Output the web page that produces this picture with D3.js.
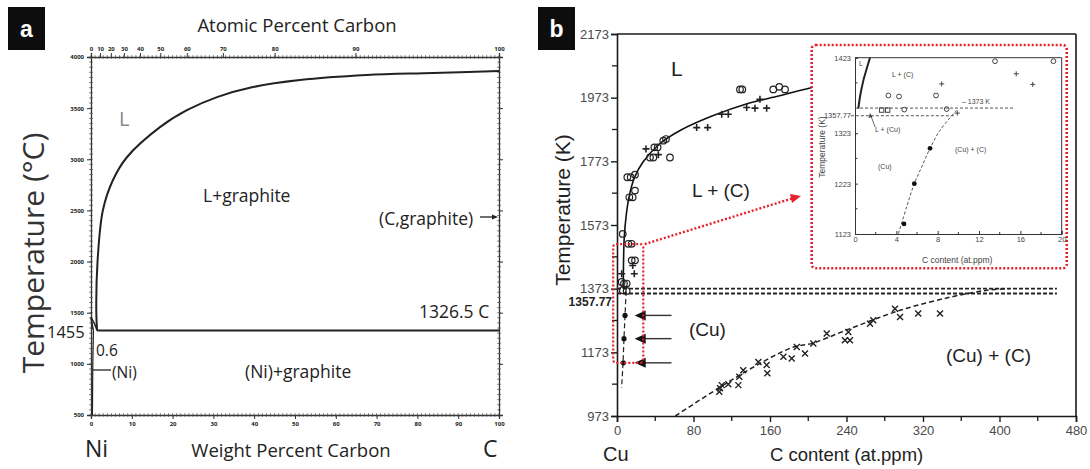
<!DOCTYPE html>
<html><head><meta charset="utf-8">
<script src="https://cdn.jsdelivr.net/npm/d3@7"></script>
<style>body{margin:0;background:#fff}svg{display:block}</style>
</head><body><svg id="c" width="1090" height="469"></svg>
<script>
// ---------- Panel a data ----------
const aWtTicks = [0,10,20,30,40,50,60,70,80,90,100];
const aAtTicks = [0,10,20,30,40,50,60,70,80,90,100];
const aTempTicks = [500,1000,1500,2000,2500,3000,3500,4000];
const aLiquidus = [[1.5,1326.5],[1.3,1500],[1.6,2000],[2.9,2500],[5.3,2790],[8.8,3020],[16.9,3314],[23.5,3480],[30.9,3608],[39.7,3706],[51.2,3775],[67.6,3824],[83.8,3843],[100,3863]];
const aNiLiquidus = [[0,1455],[0.75,1400],[1.5,1326.5]];
const aNiSolidus = [[0,1455],[0.25,1390],[0.6,1326.5]];
const aSolvus = [[0.6,1326.5],[0.45,1000],[0.35,500]];
const aEutectic = [[1.5,1326.5],[100,1326.5]];

// ---------- Panel b data ----------
const bXTicks = [0,80,160,240,320,400,480];
const bXMinor = [40,120,200,280,360,440];
const bYTicks = [973,1173,1373,1573,1773,1973,2173];
const bYMinor = [1073,1273,1473,1673,1873,2073];
const bLiquidus = [[6.5,1373],[6.8,1450],[7.5,1530],[9.5,1600],[12.5,1660],[18,1720],[27,1770],[45,1829],[66,1870],[100,1916],[136,1954],[170,1979],[203,2004],[212,2008]];
const bSolvusLow = [[9.5,1365],[8.4,1290],[7.3,1216],[6.3,1140],[4.8,1062]];
const bCuC = [[61,973],[108,1064],[150,1139],[184,1189],[205,1202],[240,1243],[296,1305],[348,1346],[387,1368],[410,1373]];
const bIsotherms = [1373,1357.77];
const bCircles = [[10.8,1723],[14.3,1723],[18.8,1731],[12.9,1660],[16.4,1660],[18.8,1681],[6,1545],[34.5,1785],[39,1817],[42.5,1817],[38,1785],[48.4,1838],[51.2,1843],[55.4,1785],[128.6,1999],[131,1999],[163.4,1999],[169.7,2007],[175.7,1999],[11.8,1514],[15.3,1514],[15.4,1462],[18.8,1462],[4.9,1394],[7.3,1389],[10.1,1389],[6,1368],[10.1,1366]];
const bPlus = [[30.3,1812],[43.2,1794],[83.3,1879],[94.8,1879],[109.5,1921],[116.4,1921],[135.6,1942],[144.3,1940],[156.5,1940],[149.5,1968],[16.4,1446],[18.1,1420],[4.9,1420]];
const bDots = [[8.4,1289],[7.3,1216],[6.6,1140]];
const bCrosses = [[107.7,1060],[109.5,1070],[107,1049],[116.4,1073],[126.9,1070],[127.9,1096],[132,1117],[147.8,1143],[156.5,1133],[157.2,1107],[174,1159],[182.7,1154],[188,1190],[196.6,1169],[205.3,1201],[219.3,1232],[238.4,1211],[241.9,1237],[243.6,1211],[264.6,1263],[268,1274],[290.7,1310],[296,1284],[315,1295],[337.8,1295]];

// ---------- Inset data ----------
const iXTicks = [0,4,8,12,16,20];
const iXMinor = [2,6,10,14,18];
const iYTickValues = [1123,1223,1323,1473];
const iYTickLabels = ["1123","1223","1323","1423"];
const iYMinor = [1173,1273,1423];
const iLiquid = [[0.32,1372],[0.48,1395],[0.81,1428],[1.13,1451],[1.45,1473]];
const iSolvus = [[9.84,1369],[8.23,1329],[7.26,1293],[6.45,1256],[5.74,1223],[5.0,1177],[4.19,1123]];
const iCircles = [[3.23,1398],[4.26,1396],[7.84,1398],[13.55,1466],[19.2,1466],[4.77,1370],[8.87,1371]];
const iSquares = [[2.58,1369],[3.16,1369]];
const iPlus = [[8.39,1421],[15.6,1441],[17.2,1420],[9.9,1363]];
const iDots = [[7.26,1293],[5.74,1223],[4.74,1143]];

const svg = d3.select('#c');
svg.append('rect').attr('width',1090).attr('height',469).attr('fill','#fff');
const RED = '#e5222b';
const fmtInt = d => String(d);

function panelLabel(x,y,w,h,t){
  svg.append('rect').attr('x',x).attr('y',y).attr('width',w).attr('height',h).attr('fill','#0d0d0d');
  svg.append('text').attr('x',x+w/2).attr('y',y+h/2+8).attr('text-anchor','middle')
    .attr('font-family','Liberation Sans, Arial, sans-serif').attr('font-weight','bold').attr('font-size',23).attr('fill','#fff').text(t);
}
function txt(g,x,y,s,size,opt={}){
  const t = g.append('text').attr('x',x).attr('y',y).attr('font-size',size)
    .attr('font-family',opt.font||"'Open Sans', sans-serif").attr('fill',opt.fill||'#222')
    .attr('text-anchor',opt.anchor||'start').text(s);
  if(opt.weight) t.attr('font-weight',opt.weight);
  if(opt.rotate) t.attr('transform',`rotate(-90,${x},${y})`);
  return t;
}
function arrowHead(g,x,y,dir,len,half,fill){
  const s = dir==='left'?1:-1;
  g.append('path').attr('d',`M${x},${y}L${x+s*len},${y-half}L${x+s*len},${y+half}Z`).attr('fill',fill);
}

// =================== PANEL A ===================
panelLabel(8,7,37,43,'a');
const xA = d3.scaleLinear().domain([0,100]).range([91,499]);
const yA = d3.scaleLinear().domain([500,4000]).range([415,57]);
const gA = svg.append('g');
const atToWt = a => 100*a*12.011/(a*12.011+(100-a)*58.693);

function styleAxisA(sel){
  sel.select('.domain').attr('stroke','#333').attr('stroke-width',1.3);
  sel.selectAll('.tick line').attr('stroke','#333');
  sel.selectAll('.tick text').attr('font-size',6).attr('font-weight','bold').attr('fill','#222').attr('font-family',"'Open Sans', sans-serif");
}
gA.append('g').attr('transform','translate(0,415)').call(d3.axisBottom(xA).tickValues(aWtTicks).tickFormat(fmtInt).tickSize(4).tickPadding(3)).call(styleAxisA);
gA.append('g').attr('transform','translate(0,57)').call(d3.axisTop(xA).tickValues(aAtTicks.map(atToWt)).tickFormat((d,i)=>aAtTicks[i]).tickSize(4).tickPadding(2)).call(styleAxisA);
gA.append('g').attr('transform','translate(91,0)').call(d3.axisLeft(yA).tickValues(aTempTicks).tickFormat(fmtInt).tickSize(4).tickPadding(3)).call(styleAxisA);
gA.append('g').attr('transform','translate(499,0)').call(d3.axisRight(yA).tickValues(aTempTicks).tickSize(4).tickFormat('')).call(styleAxisA);
const wtMinor = d3.range(0,101,1);
const tMinor = d3.range(500,4001,50);
[415,57].forEach(y=>{
  gA.append('g').selectAll('line').data(wtMinor).join('line')
    .attr('x1',d=>xA(d)).attr('x2',d=>xA(d)).attr('y1',y-1.8).attr('y2',y+1.8).attr('stroke','#444').attr('stroke-width',0.7);
});
[91,499].forEach(x=>{
  gA.append('g').selectAll('line').data(tMinor).join('line')
    .attr('y1',d=>yA(d)).attr('y2',d=>yA(d)).attr('x1',x-1.8).attr('x2',x+1.8).attr('stroke','#444').attr('stroke-width',0.7);
});
const lineA = d3.line().x(d=>xA(d[0])).y(d=>yA(d[1]));
const lineAc = d3.line().x(d=>xA(d[0])).y(d=>yA(d[1])).curve(d3.curveCatmullRom.alpha(0.5));
gA.append('path').attr('d',lineAc(aLiquidus)).attr('fill','none').attr('stroke','#222').attr('stroke-width',2);
gA.append('path').attr('d',lineAc(aNiLiquidus)).attr('fill','none').attr('stroke','#222').attr('stroke-width',1.5);
gA.append('path').attr('d',lineAc(aNiSolidus)).attr('fill','none').attr('stroke','#222').attr('stroke-width',1.5);
gA.append('path').attr('d',lineAc(aSolvus)).attr('fill','none').attr('stroke','#222').attr('stroke-width',1.2);
gA.append('path').attr('d',lineA(aEutectic)).attr('fill','none').attr('stroke','#222').attr('stroke-width',2);

txt(gA,297,32,'Atomic Percent Carbon',18.5,{anchor:'middle'});
txt(gA,291,457,'Weight Percent Carbon',18.5,{anchor:'middle'});
txt(gA,85,457,'Ni',23);
txt(gA,483,457,'C',23);
txt(gA,44,253,'Temperature (°C)',30,{anchor:'middle',rotate:true,fill:'#333'});
txt(gA,119,126,'L',20,{fill:'#8a8a8a'});
txt(gA,203,202,'L+graphite',17.5);
txt(gA,379,225,'(C,graphite)',17.5);
gA.append('line').attr('x1',480).attr('x2',492).attr('y1',217).attr('y2',217).attr('stroke','#222').attr('stroke-width',1.3);
arrowHead(gA,498,217,'right',6,2.5,'#222');
txt(gA,419,318,'1326.5 C',17.5);
txt(gA,47,338,'1455',16.5);
txt(gA,96,356,'0.6',15.5);
gA.append('line').attr('x1',93).attr('x2',111).attr('y1',370).attr('y2',370).attr('stroke','#222').attr('stroke-width',1.3);
txt(gA,112,378,'(Ni)',15.5);
txt(gA,245,378,'(Ni)+graphite',17.5);

// =================== PANEL B ===================
panelLabel(538,7,37,43,'b');
const FB = 'Liberation Sans, Arial, sans-serif';
const xB = d3.scaleLinear().domain([0,480]).range([617,1076]);
const yB = d3.scaleLinear().domain([973,2173]).range([416,34]);
const gB = svg.append('g');
function styleAxisB(sel){
  sel.select('.domain').attr('stroke','#1a1a1a').attr('stroke-width',1.6);
  sel.selectAll('.tick line').attr('stroke','#1a1a1a').attr('stroke-width',1.4);
  sel.selectAll('.tick text').attr('font-size',13).attr('fill','#4a4a4a').attr('font-family',FB);
}
gB.append('g').attr('transform','translate(0,416)').call(d3.axisBottom(xB).tickValues(bXTicks).tickFormat(fmtInt).tickSize(6).tickPadding(4)).call(styleAxisB);
gB.append('g').attr('transform','translate(617,0)').call(d3.axisLeft(yB).tickValues(bYTicks).tickFormat(fmtInt).tickSize(6).tickPadding(2)).call(styleAxisB);
gB.append('line').attr('x1',617).attr('x2',1076).attr('y1',34).attr('y2',34).attr('stroke','#1a1a1a').attr('stroke-width',1.6);
gB.append('line').attr('x1',1076).attr('x2',1076).attr('y1',34).attr('y2',416).attr('stroke','#1a1a1a').attr('stroke-width',1.6);
gB.append('g').selectAll('line').data(bXMinor).join('line').attr('x1',d=>xB(d)).attr('x2',d=>xB(d)).attr('y1',416).attr('y2',421).attr('stroke','#1a1a1a').attr('stroke-width',1.3);
gB.append('g').selectAll('line').data(bYMinor).join('line').attr('y1',d=>yB(d)).attr('y2',d=>yB(d)).attr('x1',612).attr('x2',617).attr('stroke','#1a1a1a').attr('stroke-width',1.3);

const lineB = d3.line().x(d=>xB(d[0])).y(d=>yB(d[1]));
const lineBc = d3.line().x(d=>xB(d[0])).y(d=>yB(d[1])).curve(d3.curveCatmullRom.alpha(0.5));
bIsotherms.forEach(t=>{
  gB.append('path').attr('d',lineB([[0,t],[460,t]])).attr('fill','none').attr('stroke','#222').attr('stroke-width',1.8).attr('stroke-dasharray','4,2');
});
gB.append('path').attr('d',lineBc(bCuC)).attr('fill','none').attr('stroke','#222').attr('stroke-width',1.5).attr('stroke-dasharray','5,3');
gB.append('path').attr('d',lineBc(bSolvusLow)).attr('fill','none').attr('stroke','#222').attr('stroke-width',1.2).attr('stroke-dasharray','5,3');
gB.append('path').attr('d',lineBc(bLiquidus)).attr('fill','none').attr('stroke','#111').attr('stroke-width',1.6);

gB.append('g').selectAll('circle').data(bCircles).join('circle').attr('cx',d=>xB(d[0])).attr('cy',d=>yB(d[1])).attr('r',3.3)
  .attr('fill','none').attr('stroke','#222').attr('stroke-width',1.2);
gB.append('g').selectAll('path').data(bPlus).join('path')
  .attr('d',d=>{const x=xB(d[0]),y=yB(d[1]);return `M${x-3.5},${y}H${x+3.5}M${x},${y-3.5}V${y+3.5}`;})
  .attr('stroke','#222').attr('stroke-width',1.6);
gB.append('g').selectAll('path').data(bCrosses).join('path')
  .attr('d',d=>{const x=xB(d[0]),y=yB(d[1]);return `M${x-3},${y-3}L${x+3},${y+3}M${x-3},${y+3}L${x+3},${y-3}`;})
  .attr('stroke','#222').attr('stroke-width',1.4);
gB.append('g').selectAll('circle').data(bDots).join('circle').attr('cx',d=>xB(d[0])).attr('cy',d=>yB(d[1])).attr('r',2.6).attr('fill','#111');
bDots.forEach(d=>{
  const y=yB(d[1]);
  gB.append('line').attr('x1',xB(29)).attr('x2',xB(57)).attr('y1',y).attr('y2',y).attr('stroke','#333').attr('stroke-width',1.4);
  arrowHead(gB,xB(18.5),y,'left',11,5,'#111');
});

gB.append('rect').attr('x',xB(-4)).attr('y',yB(1513)).attr('width',xB(27.5)-xB(-4)).attr('height',yB(1140)-yB(1513)).attr('rx',3)
  .attr('fill','none').attr('stroke',RED).attr('stroke-width',2.2).attr('stroke-dasharray','2,2');
gB.append('line').attr('x1',xB(29)).attr('y1',yB(1513)).attr('x2',792).attr('y2',198.5).attr('stroke',RED).attr('stroke-width',2.4).attr('stroke-dasharray','2,2');
gB.append('path').attr('d','M801,196L790,194L792,203Z').attr('fill',RED);

txt(gB,671,76,'L',21,{font:FB});
txt(gB,692,197,'L + (C)',19,{font:FB});
txt(gB,689,336,'(Cu)',19,{font:FB});
txt(gB,946,362,'(Cu) + (C)',19,{font:FB});
txt(gB,603,461,'Cu',20,{font:FB});
txt(gB,770,461,'C content (at.ppm)',18.5,{font:FB});
txt(gB,570,210,'Temperature (K)',21,{font:FB,anchor:'middle',rotate:true});
txt(gB,612,306,'1357.77',12,{font:FB,anchor:'end',weight:'bold',fill:'#222'});

// =================== INSET ===================
const gI = svg.append('g');
gI.append('rect').attr('x',811.7).attr('y',45).attr('width',255).attr('height',223.3).attr('rx',4)
  .attr('fill','#fff').attr('stroke',RED).attr('stroke-width',2.6).attr('stroke-dasharray','2,2');
const xI = d3.scaleLinear().domain([0,20]).range([855,1061.7]);
const yI = d3.scaleLinear().domain([1123,1473]).range([234,57.7]);
function styleAxisI(sel){
  sel.select('.domain').attr('stroke','#333').attr('stroke-width',1);
  sel.selectAll('.tick line').attr('stroke','#333');
  sel.selectAll('.tick text').attr('font-size',7.5).attr('fill','#444').attr('font-family',FB);
}
gI.append('g').attr('transform','translate(0,234)').call(d3.axisBottom(xI).tickValues(iXTicks).tickFormat(fmtInt).tickSize(-3).tickPadding(3)).call(styleAxisI);
gI.append('g').attr('transform','translate(855,0)').call(d3.axisLeft(yI).tickValues(iYTickValues).tickFormat((d,i)=>iYTickLabels[i]).tickSize(-3).tickPadding(4)).call(styleAxisI);
gI.append('line').attr('x1',855).attr('x2',1061.7).attr('y1',57.7).attr('y2',57.7).attr('stroke','#333');
gI.append('line').attr('x1',1061.7).attr('x2',1061.7).attr('y1',57.7).attr('y2',234).attr('stroke','#333');
gI.append('g').selectAll('line').data(iXMinor).join('line').attr('x1',d=>xI(d)).attr('x2',d=>xI(d)).attr('y1',234).attr('y2',232).attr('stroke','#333');
gI.append('g').selectAll('line').data(iYMinor).join('line').attr('y1',d=>yI(d)).attr('y2',d=>yI(d)).attr('x1',855).attr('x2',857.5).attr('stroke','#333');

const lineI = d3.line().x(d=>xI(d[0])).y(d=>yI(d[1]));
const lineIc = d3.line().x(d=>xI(d[0])).y(d=>yI(d[1])).curve(d3.curveCatmullRom.alpha(0.5));
gI.append('path').attr('d',lineI([[0,1373],[15.4,1373]])).attr('fill','none').attr('stroke','#555').attr('stroke-width',1).attr('stroke-dasharray','3,2');
gI.append('path').attr('d',lineI([[-0.4,1357.77],[9.6,1357.77]])).attr('fill','none').attr('stroke','#555').attr('stroke-width',1).attr('stroke-dasharray','3,2');
gI.append('path').attr('d',lineIc(iSolvus)).attr('fill','none').attr('stroke','#555').attr('stroke-width',1).attr('stroke-dasharray','3,2');
gI.append('path').attr('d',lineIc(iLiquid)).attr('fill','none').attr('stroke','#222').attr('stroke-width',2);
gI.append('g').selectAll('circle').data(iCircles).join('circle').attr('cx',d=>xI(d[0])).attr('cy',d=>yI(d[1])).attr('r',2.4)
  .attr('fill','none').attr('stroke','#444').attr('stroke-width',1);
gI.append('g').selectAll('rect').data(iSquares).join('rect').attr('x',d=>xI(d[0])-2.2).attr('y',d=>yI(d[1])-2.2).attr('width',4.4).attr('height',4.4)
  .attr('fill','none').attr('stroke','#444').attr('stroke-width',1);
gI.append('g').selectAll('path').data(iPlus).join('path')
  .attr('d',d=>{const x=xI(d[0]),y=yI(d[1]);return `M${x-2.5},${y}H${x+2.5}M${x},${y-2.5}V${y+2.5}`;})
  .attr('stroke','#444').attr('stroke-width',1);
gI.append('g').selectAll('circle').data(iDots).join('circle').attr('cx',d=>xI(d[0])).attr('cy',d=>yI(d[1])).attr('r',2.4).attr('fill','#111');

const FI = {font:FB,fill:'#444'};
txt(gI,859,66,'L',7,FI);
txt(gI,892,77,'L + (C)',7,FI);
txt(gI,962,104,'– 1373 K',7,FI);
txt(gI,851,118,'1357.77',7.5,{...FI,anchor:'end'});
txt(gI,875,132,'L + (Cu)',7,FI);
gI.append('line').attr('x1',875).attr('y1',127).attr('x2',871).attr('y2',116).attr('stroke','#444').attr('stroke-width',0.8);
gI.append('path').attr('d','M870,113L868.5,118L872.5,117Z').attr('fill','#444');
txt(gI,878,169,'(Cu)',7,FI);
txt(gI,955,152,'(Cu) + (C)',7,FI);
txt(gI,922,263,'C  content (at.ppm)',8.5,FI);
txt(gI,825,147,'Temperature (K)',8.5,{...FI,anchor:'middle',rotate:true});
</script></body></html>
